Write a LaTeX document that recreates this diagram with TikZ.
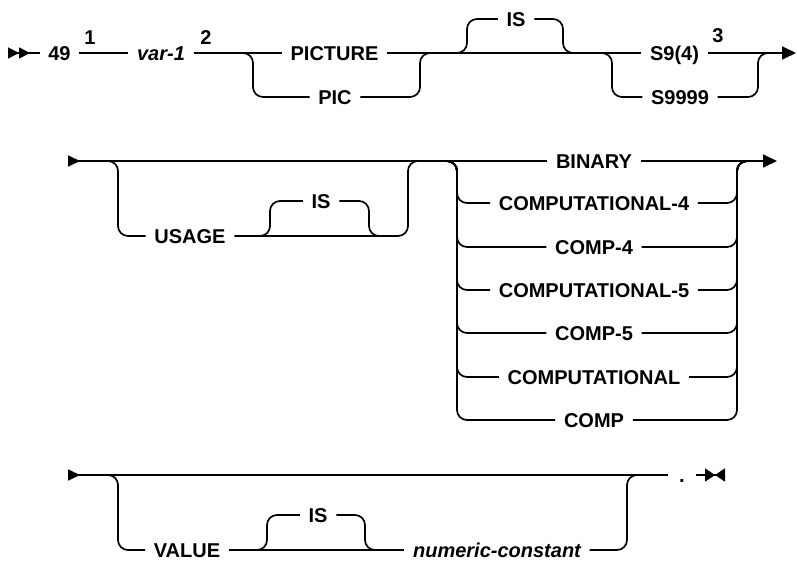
\documentclass[tikz,border=0pt]{standalone}
\usepackage{fontspec}
\setmainfont{Liberation Sans}
\usetikzlibrary{arrows.meta,positioning}

\begin{document}
\begin{tikzpicture}[
  x=0.5pt, y=-0.5pt,
  rail/.style={line width=0.85pt, rounded corners=5pt},
  kw/.style={inner xsep=4.2pt, inner ysep=0pt, text height=7.2pt, text depth=0pt, font=\fontsize{10}{12}\selectfont\bfseries},
  vr/.style={kw, font=\fontsize{10}{12}\selectfont\bfseries\itshape},
  note/.style={kw, inner xsep=0pt},
  go/.style={-{Triangle[length=7pt,width=6.5pt]}},
  begin1/.style={{Triangle[reversed,length=5.5pt,width=5.5pt]Triangle[reversed,length=5.5pt,width=5.5pt]}-},
  begin2/.style={{Triangle[reversed,length=6pt,width=5.5pt]}-},
  stop/.style={-{Triangle[length=5pt,width=6.5pt]Triangle[reversed,length=5pt,width=6.5pt]}}
]
\useasboundingbox (0,0) rectangle (797,562);

% first line
\node[kw] (n49) at (59.5,53) {49};
\node[vr] (var) at (161,53) {var-1};
\node[kw] (picture) at (334.5,53) {PICTURE};
\node[kw] (pic) at (335,97) {PIC};
\node[kw] (is1) at (516,19) {IS};
\node[kw] (s94) at (674.5,53) {S9(4)};
\node[kw] (s9999) at (680,97) {S9999};
\node[note] (r1) at (90,37) {1};
\node[note] (r2) at (206,37) {2};
\node[note] (r3) at (718,35) {3};
\coordinate (st1) at (8,53);
\coordinate (end1) at (796,53);
\coordinate (pa) at (253,53); \coordinate (pb) at (420,53);
\coordinate (ia) at (467,53); \coordinate (ib) at (563,53);
\coordinate (sa) at (612,53); \coordinate (sb) at (758,53);
\draw[rail, begin1] (st1) -- (n49);
\draw[rail] (n49) -- (var);
\draw[rail] (var) -- (picture);
\draw[rail] (picture) -- (s94);
\draw[rail, go] (s94) -- (end1);
\draw[rail] (pa) ++(-12,0) -- (pa) |- (pic);
\draw[rail] (pic) -| (pb) -- ++(12,0);
\draw[rail] (ia) ++(-12,0) -- (ia) |- (is1);
\draw[rail] (is1) -| (ib) -- ++(12,0);
\draw[rail] (sa) ++(-12,0) -- (sa) |- (s9999);
\draw[rail] (s9999) -| (sb) -- ++(12,0);

% second line
\node[kw] (usage) at (190,236) {USAGE};
\node[kw] (is2) at (321,201) {IS};
\foreach \lab/\yy [count=\i] in {BINARY/161, COMPUTATIONAL-4/203, COMP-4/247,
    COMPUTATIONAL-5/290, COMP-5/333, COMPUTATIONAL/377, COMP/420}
  \node[kw] (c\i) at (594,\yy) {\lab};
\coordinate (st2) at (68,161);
\coordinate (end2) at (777,161);
\coordinate (ua) at (118,161); \coordinate (ub) at (408,161);
\coordinate (ja) at (270,236); \coordinate (jb) at (369,236);
\coordinate (ca) at (457,161); \coordinate (cb) at (737,161);
\draw[rail, begin2] (st2) -- (c1);
\draw[rail, go] (c1) -- (end2);
\draw[rail] (ua) ++(-12,0) -- (ua) |- (usage);
\draw[rail] (usage) -| (ub) -- ++(12,0);
\draw[rail] (ja) ++(-12,0) -- (ja) |- (is2);
\draw[rail] (is2) -| (jb) -- ++(12,0);
\foreach \i in {2,...,7} {
  \draw[rail] (ca) ++(-12,0) -- (ca) |- (c\i);
  \draw[rail] (c\i) -| (cb) -- ++(12,0);
}

% third line
\node[kw] (value) at (187,550) {VALUE};
\node[kw] (is3) at (318,515) {IS};
\node[vr] (num) at (497,550) {numeric-constant};
\node[kw, inner xsep=5.5pt] (dot) at (682,475) {.};
\coordinate (st3) at (68,475);
\coordinate (end3) at (725,475);
\coordinate (va) at (118,475); \coordinate (vb) at (627,475);
\coordinate (ka) at (267,550); \coordinate (kb) at (365,550);
\draw[rail, begin2] (st3) -- (dot);
\draw[rail, stop] (dot) -- (end3);
\draw[rail] (va) ++(-12,0) -- (va) |- (value);
\draw[rail] (value) -- (num);
\draw[rail] (num) -| (vb) -- ++(12,0);
\draw[rail] (ka) ++(-12,0) -- (ka) |- (is3);
\draw[rail] (is3) -| (kb) -- ++(12,0);
\end{tikzpicture}
\end{document}
